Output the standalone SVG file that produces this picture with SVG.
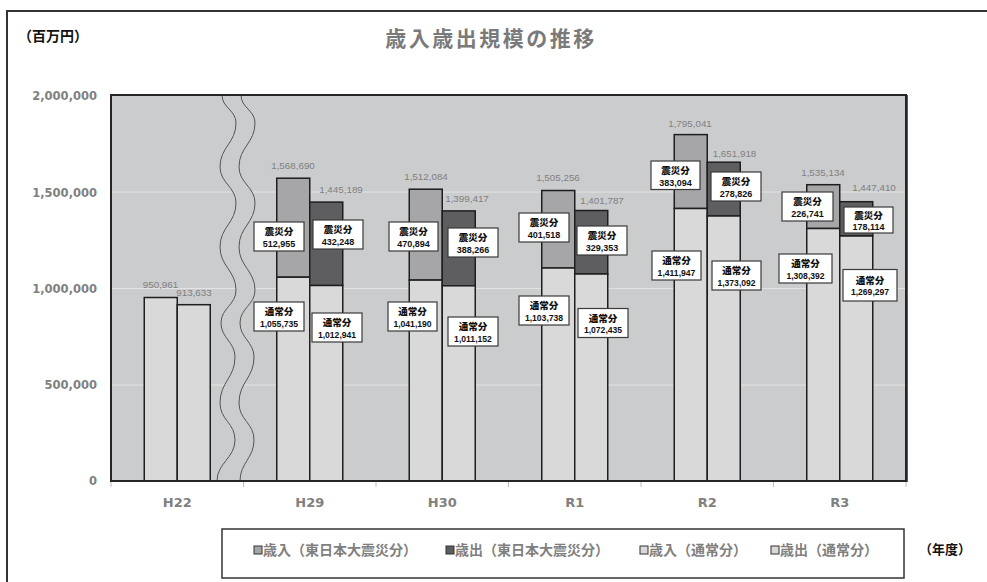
<svg xmlns="http://www.w3.org/2000/svg" width="987" height="582" viewBox="0 0 987 582">
<style>
.tot{font-family:"Liberation Sans",Arial,sans-serif;font-size:9.8px;fill:#7f7f7f;text-anchor:middle}
.cb{fill:#fff;stroke:#3a3a3a;stroke-width:1.2}
.cl{font-family:"Noto Sans CJK JP",sans-serif;font-weight:900;font-size:9.5px;text-anchor:middle;fill:#111}
.cn{font-family:"Liberation Sans",Arial,sans-serif;font-weight:700;font-size:9px;text-anchor:middle;fill:#111}
.cn2{font-family:"Liberation Sans",Arial,sans-serif;font-weight:700;font-size:8.6px;text-anchor:middle;fill:#111}
.bar{stroke:#1e1e1e;stroke-width:1.5}
.n{fill:#d9d9da}
.rq{fill:#a6a6a8}
.eq{fill:#5e5e60}
.ax{font-family:"DejaVu Sans",sans-serif;font-weight:700;font-size:11.5px;fill:#808080;text-anchor:end}
.xl{font-family:"DejaVu Sans",sans-serif;font-weight:700;font-size:13px;fill:#808080;text-anchor:middle}
.grid{stroke:#e3e3e3;stroke-width:1}
.tick{stroke:#bdbdbd;stroke-width:1}
.wave{fill:none;stroke:#555;stroke-width:1}
.lg{font-family:"Noto Sans CJK JP",sans-serif;font-weight:700;font-size:14px;fill:#7f7f7f}
.sq{stroke:#333;stroke-width:1}
</style>
<rect x="0" y="0" width="987" height="582" fill="#fff"/>
<rect id="frame" x="7" y="11" width="1000" height="600" fill="none" stroke="#333" stroke-width="2"/>
<text id="unit" x="18" y="40.5" font-family="Noto Sans CJK JP,sans-serif" font-weight="700" font-size="14" fill="#111">（百万円）</text>
<text id="title" x="491" y="46" text-anchor="middle" font-family="Noto Sans CJK JP,sans-serif" font-weight="700" font-size="21" letter-spacing="2.5" fill="#7a7a7a">歳入歳出規模の推移</text>

<g id="plot">
<rect x="111" y="95" width="795" height="386" fill="#cbcccd"/>
<line class="grid" x1="111" y1="192" x2="906" y2="192"/>
<line class="grid" x1="111" y1="288.5" x2="906" y2="288.5"/>
<line class="grid" x1="111" y1="385" x2="906" y2="385"/>
</g>

<g id="break">
<path d="M231.5,95 C231.5,108 245.5,110 245.5,123 C245.5,143 229.5,147 229.5,167 C229.5,183 245.5,187 245.5,203 C245.5,223 229.5,227 229.5,247 C229.5,266 245.5,271 245.5,290 C245.5,305 230.5,308 230.5,323 C230.5,338 244.5,342 244.5,357 C244.5,378 229.5,382 229.5,403 C229.5,420 244.5,423 244.5,440 C244.5,458 228.5,463 228.5,481" fill="none" stroke="#cbcccd" stroke-width="18"/>
<path class="wave" d="M222,95 C222,108 236,110 236,123 C236,143 220,147 220,167 C220,183 236,187 236,203 C236,223 220,227 220,247 C220,266 236,271 236,290 C236,305 221,308 221,323 C221,338 235,342 235,357 C235,378 220,382 220,403 C220,420 235,423 235,440 C235,458 217,463 217,481"/>
<path class="wave" d="M241,95 C241,108 255,110 255,123 C255,143 239,147 239,167 C239,183 255,187 255,203 C255,223 239,227 239,247 C239,266 255,271 255,290 C255,305 240,308 240,323 C240,338 254,342 254,357 C254,378 239,382 239,403 C239,420 254,423 254,440 C254,458 240,463 240,481"/>
</g>

<g id="bars">
<g id="H22-bars">
<rect class="bar n" x="144.25" y="297.5" width="33" height="183.5"/>
<rect class="bar n" x="177.25" y="304.7" width="33" height="176.3"/>
</g>
<g id="H29-bars">
<rect class="bar rq" x="276.75" y="178.2" width="33" height="99"/>
<rect class="bar n" x="276.75" y="277.2" width="33" height="203.8"/>
<rect class="bar eq" x="309.75" y="202.1" width="33" height="83.4"/>
<rect class="bar n" x="309.75" y="285.5" width="33" height="195.5"/>
</g>
<g id="H30-bars">
<rect class="bar rq" x="409.25" y="189.2" width="33" height="90.9"/>
<rect class="bar n" x="409.25" y="280.1" width="33" height="200.9"/>
<rect class="bar eq" x="442.25" y="210.9" width="33" height="74.9"/>
<rect class="bar n" x="442.25" y="285.8" width="33" height="195.2"/>
</g>
<g id="R1-bars">
<rect class="bar rq" x="541.75" y="190.5" width="33" height="77.5"/>
<rect class="bar n" x="541.75" y="268" width="33" height="213"/>
<rect class="bar eq" x="574.75" y="210.5" width="33" height="63.5"/>
<rect class="bar n" x="574.75" y="274" width="33" height="207"/>
</g>
<g id="R2-bars">
<rect class="bar rq" x="674.25" y="134.6" width="33" height="73.9"/>
<rect class="bar n" x="674.25" y="208.5" width="33" height="272.5"/>
<rect class="bar eq" x="707.25" y="162.2" width="33" height="53.8"/>
<rect class="bar n" x="707.25" y="216" width="33" height="265"/>
</g>
<g id="R3-bars">
<rect class="bar rq" x="806.75" y="184.7" width="33" height="43.8"/>
<rect class="bar n" x="806.75" y="228.5" width="33" height="252.5"/>
<rect class="bar eq" x="839.75" y="201.7" width="33" height="34.3"/>
<rect class="bar n" x="839.75" y="236" width="33" height="245"/>
</g>
</g>

<g id="plot-border">
<rect x="111" y="95" width="795" height="386" fill="none" stroke="#262626" stroke-width="2"/>
<line x1="907" y1="95" x2="907" y2="482" stroke="#262626" stroke-width="1.5"/>
</g>

<g id="ticks">
<line class="tick" x1="111" y1="482" x2="111" y2="487"/>
<line class="tick" x1="243.5" y1="482" x2="243.5" y2="487"/>
<line class="tick" x1="376" y1="482" x2="376" y2="487"/>
<line class="tick" x1="508.5" y1="482" x2="508.5" y2="487"/>
<line class="tick" x1="641" y1="482" x2="641" y2="487"/>
<line class="tick" x1="773.5" y1="482" x2="773.5" y2="487"/>
<line class="tick" x1="906" y1="482" x2="906" y2="487"/>
</g>

<g id="y-axis">
<text class="ax" x="97" y="100.2">2,000,000</text>
<text class="ax" x="97" y="196.7">1,500,000</text>
<text class="ax" x="97" y="292.7">1,000,000</text>
<text class="ax" x="97" y="389.2">500,000</text>
<text class="ax" x="97" y="485.2">0</text>
</g>

<g id="x-axis">
<text class="xl" x="177.25" y="506.7">H22</text>
<text class="xl" x="309.75" y="506.7">H29</text>
<text class="xl" x="442.25" y="506.7">H30</text>
<text class="xl" x="574.75" y="506.7">R1</text>
<text class="xl" x="707.25" y="506.7">R2</text>
<text class="xl" x="839.75" y="506.7">R3</text>
</g>

<g id="totals">
<text class="tot" x="160.5" y="288.4">950,961</text>
<text class="tot" x="194" y="296.4">913,633</text>
<text class="tot" x="293" y="169.4">1,568,690</text>
<text class="tot" x="341" y="193.4">1,445,189</text>
<text class="tot" x="426" y="180.4">1,512,084</text>
<text class="tot" x="467" y="202.4">1,399,417</text>
<text class="tot" x="558" y="181.4">1,505,256</text>
<text class="tot" x="602" y="204.4">1,401,787</text>
<text class="tot" x="690" y="127.4">1,795,041</text>
<text class="tot" x="734.5" y="157.4">1,651,918</text>
<text class="tot" x="823" y="176.4">1,535,134</text>
<text class="tot" x="874" y="191.4">1,447,410</text>
</g>

<g id="callouts">
<g id="c-H29-rq"><rect class="cb" x="254" y="222" width="50" height="29"/><text class="cl" x="279" y="235.3">震災分</text><text class="cn" x="279" y="246.5">512,955</text></g>
<g id="c-H29-eq"><rect class="cb" x="313" y="220" width="50" height="29"/><text class="cl" x="338" y="233.3">震災分</text><text class="cn" x="338" y="244.5">432,248</text></g>
<g id="c-H30-rq"><rect class="cb" x="389" y="222" width="49" height="29"/><text class="cl" x="413.5" y="235.3">震災分</text><text class="cn" x="413.5" y="246.5">470,894</text></g>
<g id="c-H30-eq"><rect class="cb" x="448" y="228" width="50" height="29"/><text class="cl" x="473" y="241.3">震災分</text><text class="cn" x="473" y="252.5">388,266</text></g>
<g id="c-R1-rq"><rect class="cb" x="519" y="213" width="50" height="29"/><text class="cl" x="544" y="226.3">震災分</text><text class="cn" x="544" y="237.5">401,518</text></g>
<g id="c-R1-eq"><rect class="cb" x="577" y="226" width="50" height="29"/><text class="cl" x="602" y="239.3">震災分</text><text class="cn" x="602" y="250.5">329,353</text></g>
<g id="c-R2-rq"><rect class="cb" x="651" y="161" width="49" height="28.5"/><text class="cl" x="675.5" y="174.3">震災分</text><text class="cn" x="675.5" y="185.5">383,094</text></g>
<g id="c-R2-eq"><rect class="cb" x="711" y="172" width="50" height="29"/><text class="cl" x="736" y="185.3">震災分</text><text class="cn" x="736" y="196.5">278,826</text></g>
<g id="c-R3-rq"><rect class="cb" x="782" y="192" width="51" height="29"/><text class="cl" x="807.5" y="205.3">震災分</text><text class="cn" x="807.5" y="216.5">226,741</text></g>
<g id="c-R3-eq"><rect class="cb" x="844" y="207" width="49" height="26"/><text class="cl" x="868.5" y="219">震災分</text><text class="cn" x="868.5" y="229.5">178,114</text></g>
<g id="c-H29-rn"><rect class="cb" x="254" y="302" width="50" height="29"/><text class="cl" x="279" y="315.3">通常分</text><text class="cn2" x="279" y="326.5">1,055,735</text></g>
<g id="c-H29-en"><rect class="cb" x="312" y="313" width="50" height="29"/><text class="cl" x="337" y="326.3">通常分</text><text class="cn2" x="337" y="337.5">1,012,941</text></g>
<g id="c-H30-rn"><rect class="cb" x="388" y="302" width="49" height="29"/><text class="cl" x="412.5" y="315.3">通常分</text><text class="cn2" x="412.5" y="326.5">1,041,190</text></g>
<g id="c-H30-en"><rect class="cb" x="448" y="317" width="50" height="29"/><text class="cl" x="473" y="330.3">通常分</text><text class="cn2" x="473" y="341.5">1,011,152</text></g>
<g id="c-R1-rn"><rect class="cb" x="519" y="296" width="50" height="29"/><text class="cl" x="544" y="309.3">通常分</text><text class="cn2" x="544" y="320.5">1,103,738</text></g>
<g id="c-R1-en"><rect class="cb" x="578" y="308.5" width="50" height="29"/><text class="cl" x="603" y="321.8">通常分</text><text class="cn2" x="603" y="333">1,072,435</text></g>
<g id="c-R2-rn"><rect class="cb" x="652" y="251" width="49" height="29"/><text class="cl" x="676.5" y="264.3">通常分</text><text class="cn2" x="676.5" y="275.5">1,411,947</text></g>
<g id="c-R2-en"><rect class="cb" x="712" y="261" width="49" height="29"/><text class="cl" x="736.5" y="274.3">通常分</text><text class="cn2" x="736.5" y="285.5">1,373,092</text></g>
<g id="c-R3-rn"><rect class="cb" x="779" y="254" width="53" height="29"/><text class="cl" x="805.5" y="267.3">通常分</text><text class="cn2" x="805.5" y="278.5">1,308,392</text></g>
<g id="c-R3-en"><rect class="cb" x="843" y="269.5" width="54" height="31.5"/><text class="cl" x="870" y="283.5">通常分</text><text class="cn2" x="870" y="295">1,269,297</text></g>
</g>

<g id="legend">
<rect x="222" y="529" width="682" height="49" fill="#fff" stroke="#333" stroke-width="1.5"/>
<rect class="sq rq" x="254" y="546" width="8" height="8"/>
<text class="lg" x="263" y="555">歳入（東日本大震災分）</text>
<rect class="sq eq" x="446" y="546" width="8" height="8"/>
<text class="lg" x="455" y="555">歳出（東日本大震災分）</text>
<rect class="sq n" x="640" y="546" width="8" height="8"/>
<text class="lg" x="649" y="555">歳入（通常分）</text>
<rect class="sq n" x="771" y="546" width="8" height="8"/>
<text class="lg" x="780" y="555">歳出（通常分）</text>
</g>
<text id="year-unit" x="945" y="554" text-anchor="middle" font-family="Noto Sans CJK JP,sans-serif" font-weight="700" font-size="13" fill="#111">（年度）</text>
</svg>
